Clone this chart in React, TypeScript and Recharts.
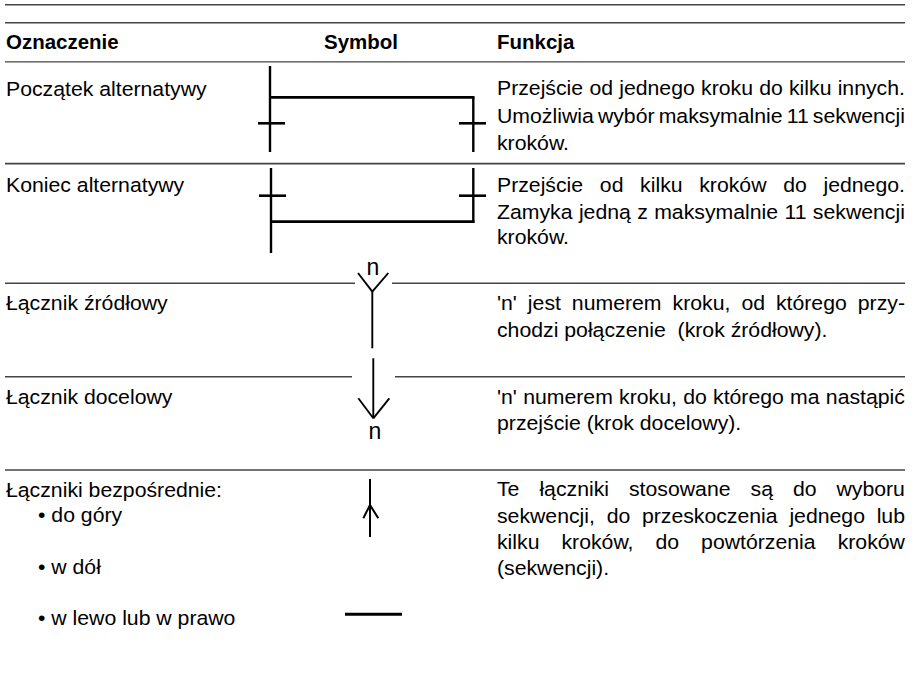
import React from "react";
import { ScatterChart, Scatter, XAxis, YAxis, ReferenceLine } from "recharts";

// table texts
const headers = ["Oznaczenie", "Symbol", "Funkcja"];
const designations = [
  "Początek alternatywy",
  "Koniec alternatywy",
  "Łącznik źródłowy",
  "Łącznik docelowy",
  "Łączniki bezpośrednie:",
];
const bulletItems = ["do góry", "w dół", "w lewo lub w prawo"];
const functionLines = [
  ["Przejście od jednego kroku do kilku innych.", "Umożliwia wybór maksymalnie 11 sekwencji", "kroków."],
  ["Przejście od kilku kroków do jednego.", "Zamyka jedną z maksymalnie 11 sekwencji", "kroków."],
  ["'n' jest numerem kroku, od którego przy-", "chodzi połączenie  (krok źródłowy)."],
  ["'n' numerem kroku, do którego ma nastąpić", "przejście (krok docelowy)."],
  ["Te łączniki stosowane są do wyboru", "sekwencji, do przeskoczenia jednego lub", "kilku kroków, do powtórzenia kroków", "(sekwencji)."],
];
const justifiedCount = [2, 2, 1, 1, 3];
const stepLabel = "n";

// page layout (pixel units of the hidden axes)
const W = 917;
const H = 686;
const headerX = [6, 324, 497];
const headerBase = 49;
const designationBase = [96, 192, 309.5, 403.5, 497];
const bulletBase = [522, 573.5, 625];
const funcX = 497;
const funcWidth = 408;
const funcBase = [
  [95, 122.5, 150],
  [192, 218.5, 244],
  [310, 337],
  [403.5, 430],
  [496, 522.5, 549, 575],
];
const labelPos = [
  { x: 373, y: 275 },
  { x: 375, y: 438.5 },
];

type Seg = [number, number, number, number, number];
// table rules: x1, y1, x2, y2, width
const rules: Seg[] = [
  [5, 4.7, 905, 4.7, 1.6],
  [5, 22.7, 905, 22.7, 1.6],
  [5, 61.8, 905, 61.8, 1.2],
  [5, 163.6, 905, 163.6, 1.6],
  [5, 283.3, 355, 283.3, 1.4],
  [392, 283.3, 905, 283.3, 1.4],
  [5, 376.8, 352, 376.8, 1.4],
  [395, 376.8, 905, 376.8, 1.4],
  [5, 470, 905, 470, 1.4],
];
// symbol strokes
const symbolSegs: Seg[] = [
  // początek alternatywy
  [270, 66, 270, 152, 2.4],
  [270, 97.3, 474.5, 97.3, 2.8],
  [473.3, 97.3, 473.3, 152, 2.4],
  [258, 123.3, 285, 123.3, 2.6],
  [459, 123.3, 486, 123.3, 2.6],
  // koniec alternatywy
  [271, 168, 271, 253, 2.4],
  [473.3, 168, 473.3, 223, 2.4],
  [259, 195.7, 286, 195.7, 2.6],
  [459, 195.7, 486, 195.7, 2.6],
  [271, 221.7, 474.5, 221.7, 2.8],
  // łącznik źródłowy
  [358, 273, 372.3, 291.7, 1.9],
  [388.3, 273, 372.3, 291.7, 1.9],
  [372.3, 291.2, 372.3, 348.3, 1.9],
  // łącznik docelowy
  [373.3, 358.3, 373.3, 418.3, 1.9],
  [358.3, 398.3, 373.3, 418.3, 1.9],
  [389.3, 398.3, 373.3, 418.3, 1.9],
  // do góry
  [370, 479, 370, 537, 2],
  [363.3, 518.3, 370, 505, 2],
  [378.3, 518.3, 370, 505, 2],
  // w lewo / w prawo
  [345, 614.3, 402, 614.3, 3],
];

const FONT = "'Liberation Sans', Arial, Helvetica, sans-serif";
const FS = 19.5;
const SX = 1.09;
const SX_BOLD = 1.05;
const INK = "#000";

let ctx: CanvasRenderingContext2D | null = null;
function measure(s: string, bold: boolean) {
  if (!ctx) ctx = document.createElement("canvas").getContext("2d");
  if (!ctx) return s.length * FS * 0.5;
  ctx.font = `${bold ? "bold " : ""}${FS}px 'Liberation Sans'`;
  return ctx.measureText(s).width;
}

type Cell = { x: number; y: number; text: string; bold?: boolean; justify?: number; size?: number; anchor?: string };

const cells: Cell[] = [];
headers.forEach((t, i) => cells.push({ x: headerX[i], y: headerBase, text: t, bold: true }));
designations.forEach((t, i) => cells.push({ x: 6, y: designationBase[i], text: t }));
bulletItems.forEach((t, i) => cells.push({ x: 38, y: bulletBase[i], text: "• " + t }));
functionLines.forEach((lines, r) =>
  lines.forEach((t, k) =>
    cells.push({ x: funcX, y: funcBase[r][k], text: t, justify: k < justifiedCount[r] ? funcWidth : undefined })
  )
);
labelPos.forEach((p) => cells.push({ x: p.x, y: p.y, text: stepLabel, size: 23, anchor: "middle" }));

function TextCell(props: any) {
  const { cx, cy, payload } = props;
  const c = payload as Cell;
  const sx = c.bold ? SX_BOLD : c.size ? 1 : SX;
  const common = {
    fill: INK,
    fontFamily: FONT,
    fontSize: c.size ?? FS,
    fontWeight: c.bold ? 700 : 400,
    style: { whiteSpace: "pre" as const },
  };
  if (c.justify) {
    const words = c.text.split(" ");
    const widths = words.map((w) => measure(w, !!c.bold) * sx);
    const total = widths.reduce((a, b) => a + b, 0);
    const gap = (c.justify - total) / (words.length - 1);
    let x = cx;
    return (
      <g>
        {words.map((w, i) => {
          const el = (
            <text key={i} {...common} transform={`translate(${x},${cy}) scale(${sx},1)`}>
              {w}
            </text>
          );
          x += widths[i] + gap;
          return el;
        })}
      </g>
    );
  }
  return (
    <text {...common} textAnchor={c.anchor ?? "start"} transform={`translate(${cx},${cy}) scale(${sx},1)`}>
      {c.text}
    </text>
  );
}

export default function App() {
  return (
    <div style={{ position: "absolute", left: 0, top: 0, background: "#fff" }}>
      <ScatterChart width={W} height={H} margin={{ top: 0, right: 0, bottom: 0, left: 0 }}>
        <XAxis type="number" dataKey="x" domain={[0, W]} allowDataOverflow hide />
        <YAxis type="number" dataKey="y" domain={[0, H]} allowDataOverflow reversed hide />
        {rules.map(([x1, y1, x2, y2, w], i) => (
          <ReferenceLine
            key={"r" + i}
            segment={[{ x: x1, y: y1 }, { x: x2, y: y2 }]}
            stroke="#444"
            strokeWidth={w}
            ifOverflow="visible"
          />
        ))}
        {symbolSegs.map(([x1, y1, x2, y2, w], i) => (
          <ReferenceLine
            key={"s" + i}
            segment={[{ x: x1, y: y1 }, { x: x2, y: y2 }]}
            stroke="#000"
            strokeWidth={w}
            ifOverflow="visible"
          />
        ))}
        <Scatter data={cells} shape={TextCell} isAnimationActive={false} />
      </ScatterChart>
    </div>
  );
}
